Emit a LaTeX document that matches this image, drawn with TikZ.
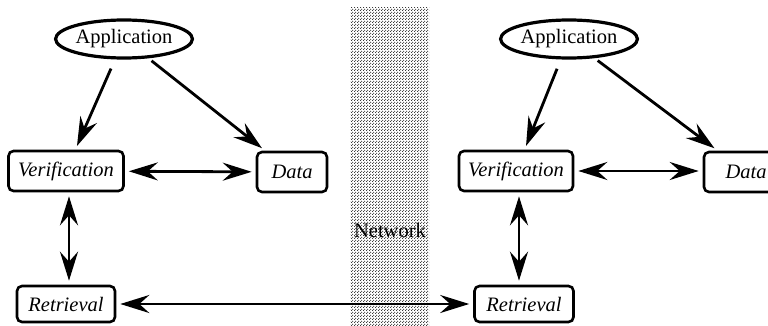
\documentclass[tikz,border=0pt]{standalone}
\usepackage{fontspec}
\setmainfont{Liberation Serif}
\usetikzlibrary{arrows.meta,shapes.geometric,patterns.meta}
\pgfdeclarepattern{name=netdots,type=uncolored,bottom left={\pgfpoint{0pt}{0pt}},top right={\pgfpoint{3pt}{3pt}},tile size={\pgfpoint{3pt}{3pt}},code={%
  \pgfpathcircle{\pgfpoint{0.75pt}{0.75pt}}{0.75pt}%
  \pgfpathcircle{\pgfpoint{2.25pt}{2.25pt}}{0.75pt}%
  \pgfusepath{fill}}}
\begin{document}
\begin{tikzpicture}[x=1pt,y=-1pt,
  every node/.style={font=\fontsize{20.5}{23}\selectfont},
  box/.style={draw,line width=2.6pt,rounded corners=5pt,inner sep=0pt,font=\fontsize{20.5}{23}\selectfont\itshape},
  appnode/.style={draw,ellipse,line width=3.2pt,inner sep=0pt,minimum height=38pt},
  conn/.style={line width=2.8pt,-{Stealth[length=29pt,width=18pt,inset=10pt]},shorten >=4pt},
  biconn/.style={line width=2.8pt,{Stealth[length=29pt,width=18pt,inset=10pt]}-{Stealth[length=29pt,width=18pt,inset=10pt]},shorten >=4pt,shorten <=4pt}]
\useasboundingbox (0,0) rectangle (768,326);
% network band
\fill[pattern={netdots},pattern color=black!85] (350,8) rectangle (429,326);
\node (net) at (390,230) {Network};
% left side
\node[appnode,minimum width=112pt] (appL) at (124,39) {Application};
\node[box,minimum width=115pt,minimum height=40pt] (verL) at (66,171) {Verification};
\node[box,minimum width=70pt,minimum height=40pt] (dataL) at (292,172) {Data};
\node[box,minimum width=98pt,minimum height=36pt] (retL) at (66,304) {Retrieval};
% right side
\node[appnode,minimum width=106pt] (appR) at (569,39) {Application};
\node[box,minimum width=114pt,minimum height=40pt] (verR) at (516,171) {Verification};
\node[box,minimum width=84pt,minimum height=40pt] (dataR) at (746,172) {Data};
\node[box,minimum width=99pt,minimum height=36pt] (retR) at (524,304) {Retrieval};
% connectors left
\draw[conn,shorten <=10pt] (appL) -- (verL);
\draw[conn,shorten <=4pt] (appL) -- (dataL);
\draw[biconn] (verL) -- (dataL);
\draw[biconn] ([xshift=3pt]verL.south) -- ([xshift=3pt]retL.north);
% connectors right
\draw[conn,shorten <=10pt] (appR) -- (verR);
\draw[conn,shorten <=4pt] (appR) -- (dataR);
\draw[biconn] (verR.east) -- (verR.east -| dataR.west);
\draw[biconn] ([xshift=3pt]verR.south) -- ([xshift=3pt]verR.south |- retR.north);
% across network
\draw[biconn] (retL.east) -- (retR.west);
\end{tikzpicture}
\end{document}
